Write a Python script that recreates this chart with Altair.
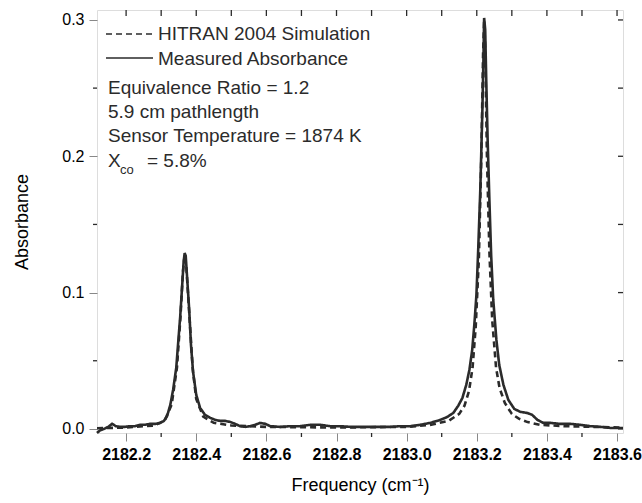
import altair as alt
import pandas as pd

# Measured absorbance
meas_freq = [2182.117, 2182.126, 2182.137, 2182.149, 2182.160, 2182.171, 2182.183, 2182.197,
             2182.211, 2182.226, 2182.240, 2182.254, 2182.268, 2182.283, 2182.297, 2182.308,
             2182.317, 2182.326, 2182.334, 2182.343, 2182.348, 2182.354, 2182.360, 2182.364,
             2182.367, 2182.370, 2182.374, 2182.380, 2182.385, 2182.391, 2182.400, 2182.411,
             2182.425, 2182.440, 2182.454, 2182.468, 2182.482, 2182.497, 2182.511, 2182.525,
             2182.540, 2182.554, 2182.568, 2182.582, 2182.597, 2182.611, 2182.639, 2182.668,
             2182.696, 2182.725, 2182.753, 2182.782, 2182.811, 2182.839, 2182.868, 2182.896,
             2182.925, 2182.953, 2182.982, 2183.010, 2183.039, 2183.067, 2183.096, 2183.116,
             2183.133, 2183.147, 2183.159, 2183.170, 2183.179, 2183.187, 2183.193, 2183.199,
             2183.204, 2183.210, 2183.216, 2183.219, 2183.221, 2183.224, 2183.227, 2183.231,
             2183.236, 2183.241, 2183.247, 2183.256, 2183.264, 2183.276, 2183.290, 2183.307,
             2183.324, 2183.344, 2183.358, 2183.373, 2183.390, 2183.410, 2183.438, 2183.467,
             2183.495, 2183.524, 2183.553, 2183.581, 2183.610, 2183.617]
meas_abs = [-0.003, -0.001, 0.000, 0.0015, 0.0037, 0.002, 0.0015, 0.0015,
            0.002, 0.002, 0.003, 0.003, 0.0037, 0.0037, 0.0044, 0.0059,
            0.0095, 0.0176, 0.0286, 0.0448, 0.0616, 0.0814, 0.1056, 0.1225,
            0.129, 0.127, 0.111, 0.087, 0.0616, 0.0418, 0.025, 0.0154,
            0.0103, 0.0081, 0.0066, 0.0059, 0.0059, 0.0051, 0.0037, 0.002,
            0.0015, 0.002, 0.003, 0.0044, 0.0037, 0.002, 0.0015, 0.002,
            0.002, 0.003, 0.003, 0.002, 0.002, 0.0015, 0.0015, 0.0015,
            0.0015, 0.0015, 0.002, 0.002, 0.003, 0.0044, 0.0066, 0.0088,
            0.0117, 0.0169, 0.0227, 0.0323, 0.0433, 0.058, 0.0763, 0.0983,
            0.131, 0.175, 0.234, 0.271, 0.3015, 0.293, 0.256, 0.212,
            0.168, 0.1277, 0.0946, 0.0653, 0.047, 0.0323, 0.0213, 0.0147,
            0.0125, 0.0117, 0.0103, 0.0066, 0.0044, 0.0044, 0.0037, 0.0037,
            0.003, 0.002, 0.0015, 0.0007, 0.0007, 0.0007]

# HITRAN 2004 simulation
sim_freq = [2182.117, 2182.20, 2182.28, 2182.31, 2182.33, 2182.345, 2182.355, 2182.362,
            2182.367, 2182.372, 2182.38, 2182.39, 2182.40, 2182.42, 2182.45, 2182.50,
            2182.60, 2182.80, 2183.00, 2183.07, 2183.12, 2183.15, 2183.165, 2183.178,
            2183.188, 2183.197, 2183.206, 2183.213, 2183.218, 2183.221, 2183.224, 2183.229,
            2183.236, 2183.244, 2183.255, 2183.265, 2183.28, 2183.30, 2183.32, 2183.345,
            2183.38, 2183.45, 2183.617]
sim_abs = [0.0005, 0.001, 0.0025, 0.006, 0.018, 0.045, 0.082, 0.115,
           0.128, 0.118, 0.085, 0.044, 0.022, 0.009, 0.0045, 0.0025,
           0.0015, 0.001, 0.0015, 0.003, 0.006, 0.011, 0.017, 0.028,
           0.045, 0.075, 0.125, 0.20, 0.275, 0.300, 0.28, 0.20,
           0.13, 0.08, 0.045, 0.03, 0.019, 0.011, 0.0075, 0.005,
           0.003, 0.002, 0.001]

series_names = ["HITRAN 2004 Simulation", "Measured Absorbance"]
x_major = [2182.2, 2182.4, 2182.6, 2182.8, 2183.0, 2183.2, 2183.4, 2183.6]
x_minor = [2182.3, 2182.5, 2182.7, 2182.9, 2183.1, 2183.3, 2183.5]
y_major = [0.0, 0.1, 0.2, 0.3]
y_minor = [0.05, 0.15, 0.25]
info_lines = ["Equivalence Ratio = 1.2", "5.9 cm pathlength", "Sensor Temperature = 1874 K"]

W, H = 526, 423
FONT = "Liberation Sans"
INK = "#2b2b2b"
DASH = [6, 4]

df = pd.concat([
    pd.DataFrame({"freq": sim_freq, "abs": sim_abs, "series": series_names[0]}),
    pd.DataFrame({"freq": meas_freq, "abs": meas_abs, "series": series_names[1]}),
])

xs = alt.Scale(domain=[2182.117, 2183.617], nice=False, zero=False)
ys = alt.Scale(domain=[-0.003, 0.3073], nice=False, zero=False)

x_axis = alt.Axis(values=x_major, format=".1f", tickSize=8, labelFontSize=16,
                  labelFontWeight="bold", labelPadding=5, title="Frequency (cm⁻¹)",
                  titleFontSize=18, titleFontWeight="normal", titlePadding=14,
                  grid=False, domain=False)
y_axis = alt.Axis(values=y_major, format=".1f", tickSize=8, labelFontSize=16,
                  labelPadding=5, title="Absorbance", titleFontSize=18,
                  titleFontWeight="normal", titlePadding=30, grid=False, domain=False)

lines = alt.Chart(df).mark_line(strokeWidth=2.6, color=INK).encode(
    x=alt.X("freq:Q", scale=xs, axis=x_axis),
    y=alt.Y("abs:Q", scale=ys, axis=y_axis),
    strokeDash=alt.StrokeDash("series:N",
                              scale=alt.Scale(domain=series_names, range=[DASH, [1, 0]]),
                              legend=None),
    detail="series:N",
)

def tick_layer(vals, channel, **pos):
    d = pd.DataFrame({"v": vals})
    if channel == "x":
        enc = dict(x=alt.X("v:Q", scale=xs, axis=x_axis))
    else:
        enc = dict(y=alt.Y("v:Q", scale=ys, axis=y_axis))
    enc.update({k: alt.value(v) for k, v in pos.items()})
    return alt.Chart(d).mark_rule(color=INK, strokeWidth=1.3).encode(**enc)

ticks = [
    tick_layer(x_minor, "x", y=H, y2=H + 4),
    tick_layer(x_major + x_minor, "x", y=0, y2=6),
    tick_layer(y_minor, "y", x=-4, x2=0),
    tick_layer(y_major + y_minor, "y", x=W, x2=W - 5),
]

def txt(s, x, y, size=19):
    return alt.Chart(pd.DataFrame({"t": [s]})).mark_text(
        align="left", baseline="alphabetic", fontSize=size, font=FONT, color=INK
    ).encode(text="t:N", x=alt.value(x), y=alt.value(y))

def key(dash, y):
    m = alt.Chart(pd.DataFrame({"s": [0]})).mark_rule(color=INK, strokeWidth=1.6,
                                                      strokeDash=dash)
    return m.encode(x=alt.value(9), x2=alt.value(56), y=alt.value(y))

texts = [
    key(DASH, 24), txt(series_names[0], 61, 30),
    key([1, 0], 48), txt(series_names[1], 61, 55),
    txt(info_lines[0], 11, 84),
    txt(info_lines[1], 11, 108),
    txt(info_lines[2], 11, 132),
    txt("X", 11, 157),
    txt("co", 23, 164, size=13),
    txt("= 5.8%", 50, 157),
]

chart = alt.layer(lines, *ticks, *texts).properties(
    width=W, height=H,
    padding={"left": 97, "top": 10, "right": 19, "bottom": 70},
    autosize=alt.AutoSizeParams(type="none"),
).configure_view(stroke=INK, strokeWidth=1.5).configure_axis(
    domain=False, tickColor=INK, tickWidth=1.3, labelColor=INK, titleColor=INK,
    labelFont=FONT, titleFont=FONT, grid=False
).configure(background="white")

chart.save("out.html", embed_options={"renderer": "svg", "actions": False})
